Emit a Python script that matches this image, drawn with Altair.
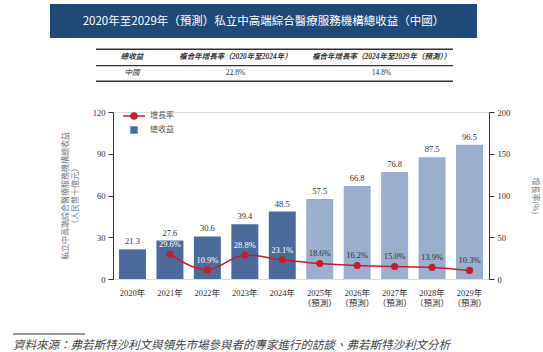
import altair as alt
import pandas as pd

years = ["2020", "2021", "2022", "2023", "2024", "2025", "2026", "2027", "2028", "2029"]
revenue = [21.3, 27.6, 30.6, 39.4, 48.5, 57.5, 66.8, 76.8, 87.5, 96.5]
growth = [None, 29.6, 10.9, 28.8, 23.1, 18.6, 16.2, 15.0, 13.9, 10.3]
period = ["歷史", "歷史", "歷史", "歷史", "歷史", "預測", "預測", "預測", "預測", "預測"]

title_text = "2020年至2029年（預測）私立中高端綜合醫療服務機構總收益（中國）"
table_headers = ["總收益", "複合年增長率（2020年至2024年）", "複合年增長率（2024年至2029年（預測））"]
table_row = ["中國", "22.8%", "14.8%"]
legend_labels = ["增長率", "總收益"]
source_text = "資料來源：弗若斯特沙利文與領先市場參與者的專家進行的訪談、弗若斯特沙利文分析"
left_title = ["私立中高端綜合醫療服務機構總收益", "（人民幣十億元）"]
right_title = "增長率(%)"

SERIF = "Liberation Serif, Noto Sans CJK TC"
CJK = "Noto Sans CJK TC"
DARK = "#4a6b9b"
LIGHT = "#9aafcd"
RED = "#c41e2a"
NAVY = "#1f4a78"

df = pd.DataFrame({"year": years, "revenue": revenue, "growth": growth, "period": period})
df["rev_label"] = [f"{v:.1f}" for v in revenue]
df["g_label"] = [("" if g is None else f"{g:.1f}%") for g in growth]

one = pd.DataFrame({"k": [0]})

xenc = alt.X(
    "year:N",
    sort=years,
    scale=alt.Scale(paddingInner=0.28, paddingOuter=0.16),
    axis=alt.Axis(
        title=None, domain=False, ticks=False, labelAngle=0,
        labelFont=SERIF, labelFontSize=8.5, labelColor="#333", labelPadding=9,
        labelLineHeight=10,
        labelExpr="toNumber(datum.value) >= 2025 ? [datum.value + '年', '（預測）'] : datum.value + '年'",
    ),
)

base = alt.Chart(df)

yrev = alt.Y(
    "revenue:Q",
    scale=alt.Scale(domain=[0, 120], nice=False),
    axis=alt.Axis(
        values=[0, 30, 60, 90, 120], grid=False, domainColor="#333", tickColor="#333",
        tickSize=5, labelFont=SERIF, labelFontSize=8.5, labelColor="#333", labelPadding=3,
        title=left_title, titleFont=CJK, titleFontSize=8, titleFontWeight="normal",
        titleColor="#777", titlePadding=13, titleLineHeight=10, orient="left",
    ),
)

bars = base.mark_bar().encode(
    x=xenc,
    y=yrev,
    color=alt.Color("period:N", scale=alt.Scale(domain=["歷史", "預測"], range=[DARK, LIGHT]), legend=None),
)
bar_text = base.mark_text(baseline="bottom", dy=-3, font=SERIF, fontSize=8.5, color="#333").encode(
    x=xenc, y=alt.Y("revenue:Q", scale=alt.Scale(domain=[0, 120], nice=False)), text="rev_label:N"
)
bar_layer = alt.layer(bars, bar_text)

gdf = df[df["growth"].notna()]
gbase = alt.Chart(gdf)
ygr = alt.Y(
    "growth:Q",
    scale=alt.Scale(domain=[0, 200], nice=False),
    axis=alt.Axis(
        values=[0, 50, 100, 150, 200], grid=False, domainColor="#333", tickColor="#333",
        tickSize=5, labelFont=SERIF, labelFontSize=8.5, labelColor="#333", labelPadding=3,
        title=right_title, titleFont=CJK, titleFontSize=8, titleFontWeight="normal",
        titleColor="#777", titlePadding=21, orient="right",
    ),
)
line = gbase.mark_line(color=RED, strokeWidth=1.5, interpolate="monotone").encode(x=xenc, y=ygr)
pts = gbase.mark_circle(color=RED, opacity=1, size=50).encode(x=xenc, y=alt.Y("growth:Q", scale=alt.Scale(domain=[0, 200], nice=False)))
gtext = gbase.mark_text(baseline="bottom", dy=-5, font=SERIF, fontSize=8.5).encode(
    x=xenc,
    y=alt.Y("growth:Q", scale=alt.Scale(domain=[0, 200], nice=False)),
    text="g_label:N",
    color=alt.Color("period:N", scale=alt.Scale(domain=["歷史", "預測"], range=["#ffffff", "#333333"]), legend=None),
)
line_layer = alt.layer(line, pts, gtext)

main = alt.layer(bar_layer, line_layer).resolve_scale(y="independent", color="independent")

# decorations
deco = alt.Chart(one)
banner = deco.mark_rect(color=NAVY).encode(x=alt.value(-63), x2=alt.value(364), y=alt.value(-108), y2=alt.value(-74))
title = deco.mark_text(font=CJK, fontSize=11.5, color="white", align="center", baseline="middle").encode(
    x=alt.value(150.5), y=alt.value(-90.5), text=alt.value(title_text))

rules = []
for yy, w in [(-62.7, 1.5), (-46.3, 1.2), (-30.7, 1.5)]:
    rules.append(deco.mark_rule(color="#333", strokeWidth=w).encode(
        x=alt.value(-17), x2=alt.value(340), y=alt.value(yy)))

tx = [19, 122.5, 268.5]
table_texts = []
for xx, h in zip(tx, table_headers):
    table_texts.append(deco.mark_text(font=SERIF, fontSize=7.5, fontStyle="italic", fontWeight="bold",
                                      color="#333", baseline="middle").encode(
        x=alt.value(xx), y=alt.value(-54.7), text=alt.value(h)))
for i, (xx, r) in enumerate(zip(tx, table_row)):
    table_texts.append(deco.mark_text(font=SERIF, fontSize=7.5, fontStyle="italic" if i == 0 else "normal",
                                      color="#333", baseline="middle").encode(
        x=alt.value(xx), y=alt.value(-38.7), text=alt.value(r)))

leg_rule = deco.mark_rule(color=RED, strokeWidth=1.5).encode(x=alt.value(10), x2=alt.value(32), y=alt.value(4))
leg_pt = deco.mark_circle(color=RED, opacity=1, size=55).encode(x=alt.value(21), y=alt.value(4))
leg_sq = deco.mark_square(color=DARK, opacity=1, size=55).encode(x=alt.value(21), y=alt.value(18))
leg_t1 = deco.mark_text(font=CJK, fontSize=8, color="#555", align="left", baseline="middle").encode(
    x=alt.value(37), y=alt.value(4), text=alt.value(legend_labels[0]))
leg_t2 = deco.mark_text(font=CJK, fontSize=8, color="#555", align="left", baseline="middle").encode(
    x=alt.value(37), y=alt.value(18), text=alt.value(legend_labels[1]))

src_rule = deco.mark_rule(color="#333", strokeWidth=1).encode(x=alt.value(-100), x2=alt.value(-28), y=alt.value(222))
src_text = deco.mark_text(font=CJK, fontSize=11.5, fontStyle="italic", color="#444", align="left", baseline="middle").encode(
    x=alt.value(-100), y=alt.value(233.5), text=alt.value(source_text))

chart = alt.layer(
    main, banner, title, *rules, *table_texts, leg_rule, leg_pt, leg_sq, leg_t1, leg_t2, src_rule, src_text
).resolve_scale(y="independent", color="independent").properties(
    width=376, height=167,
    autosize=alt.AutoSizeParams(type="none"),
    padding={"left": 113, "top": 112, "right": 54, "bottom": 73},
).configure_view(stroke=None).configure(background="white")

chart.save("out.html", embed_options={"renderer": "svg", "actions": False})
